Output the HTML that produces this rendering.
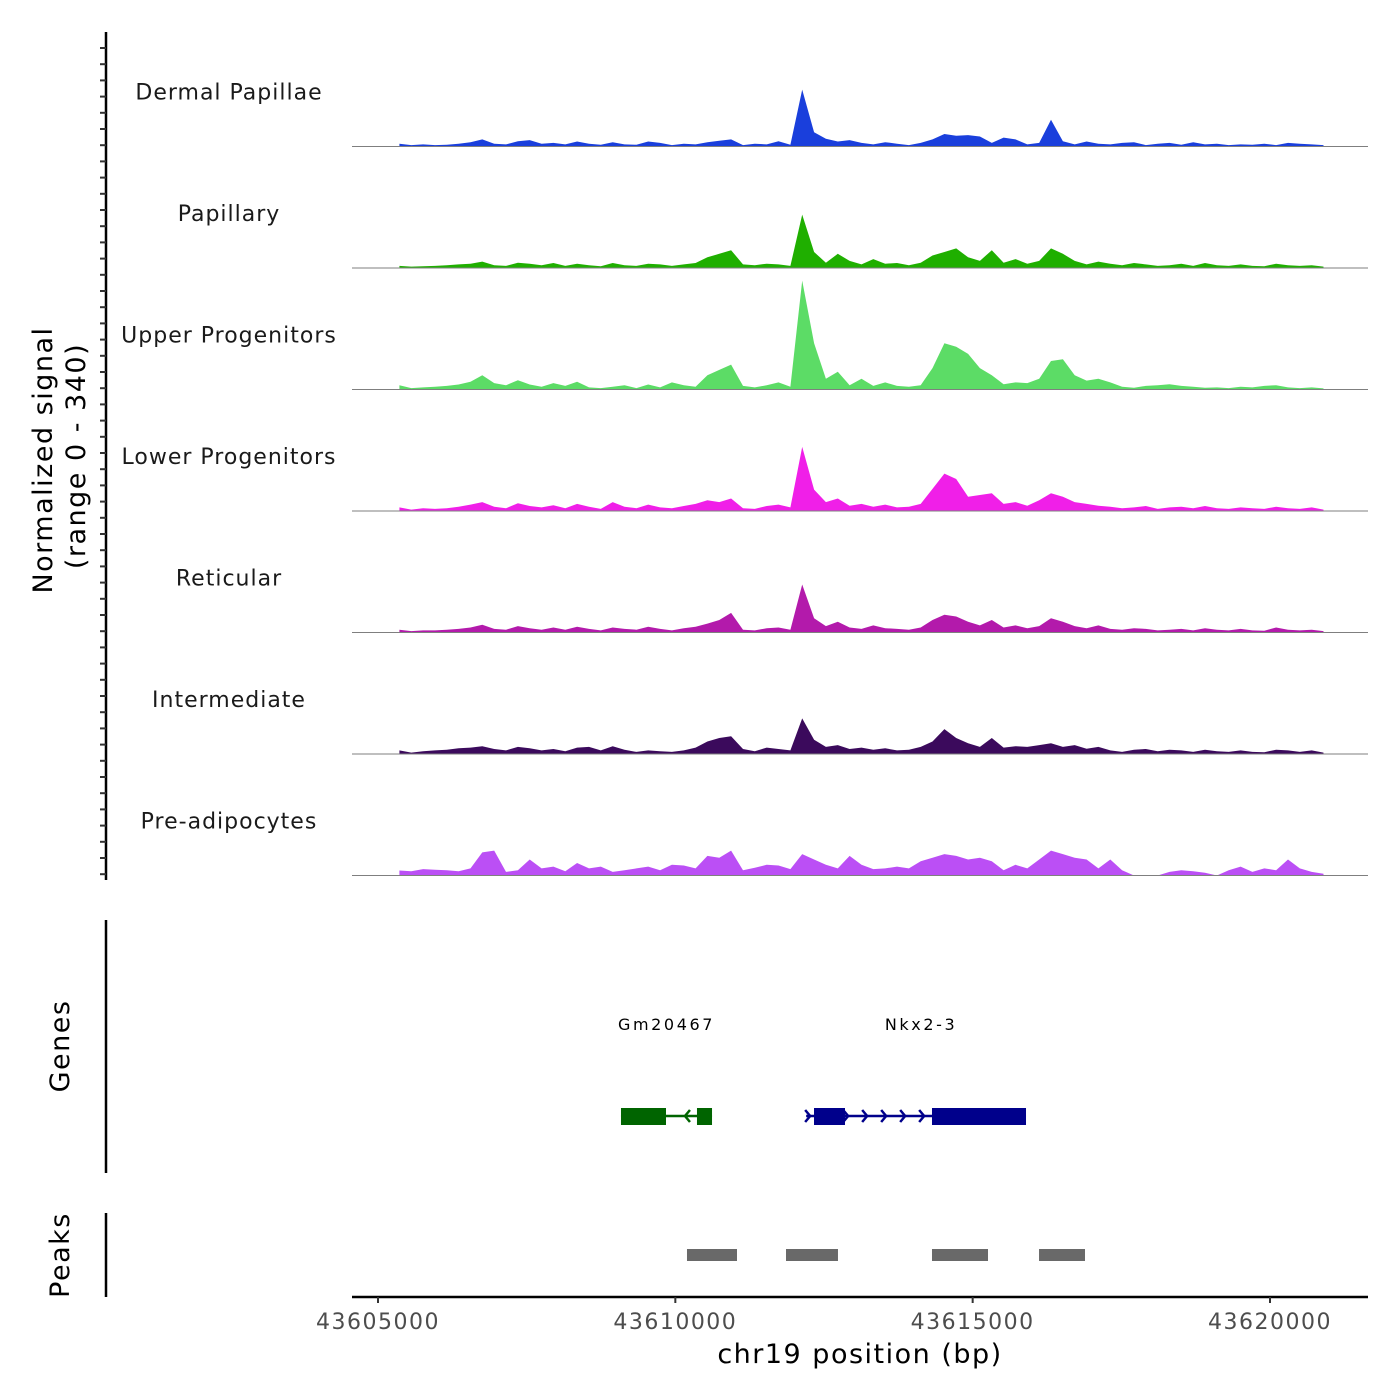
<!DOCTYPE html>
<html><head><meta charset="utf-8"><style>
body{margin:0;background:#fff}
svg{display:block;font-family:"DejaVu Sans","Liberation Sans",sans-serif}
</style></head><body>
<svg id="chart" width="1400" height="1400" viewBox="0 0 1400 1400"></svg>
<script>
const trackNames=["Dermal Papillae","Papillary","Upper Progenitors","Lower Progenitors","Reticular","Intermediate","Pre-adipocytes"];
const trackColors=["#1a3fdc","#1faf00","#5cdc66","#f01fe8","#b31aab","#3b0a5c","#bb4ff5"];
const sigDermal=[8,4,6,4,5,8,12,20,8,6,15,18,8,10,6,14,8,5,12,6,5,14,10,4,8,6,12,16,20,4,8,6,15,5,160,40,22,14,18,10,6,12,8,4,10,20,35,30,32,28,10,25,20,6,10,75,15,6,14,8,6,10,12,4,8,10,5,12,6,8,4,6,5,8,4,10,8,6,4];
const sigPapillary=[6,4,5,6,8,10,12,18,8,6,15,12,8,14,6,12,8,5,14,8,6,12,10,6,10,14,30,40,50,10,8,12,10,6,150,45,15,40,20,10,25,12,14,8,15,35,45,55,30,20,50,15,25,12,20,55,40,20,10,18,12,8,14,10,6,8,12,6,14,8,6,10,6,5,12,8,6,8,4];
const sigUpper=[12,4,6,8,10,14,22,40,18,12,26,14,8,18,10,22,6,4,8,12,4,14,6,20,12,8,40,55,70,10,6,12,20,8,306,130,30,50,12,30,10,20,10,8,12,60,130,120,100,60,40,15,20,18,30,80,85,40,25,30,20,8,5,10,12,15,10,8,5,6,4,8,6,10,12,6,4,6,3];
const sigLower=[10,4,8,6,8,12,18,25,12,8,22,14,10,16,8,20,12,6,25,12,8,18,10,8,14,20,30,25,35,8,6,14,18,10,180,60,25,35,15,20,12,18,10,12,20,62,105,90,40,45,50,20,25,15,30,50,40,25,20,15,12,8,10,14,6,10,12,8,14,8,6,10,8,6,12,8,6,10,4];
const sigReticular=[8,4,6,6,8,10,14,22,10,8,18,12,8,14,8,16,10,6,14,10,8,16,10,6,12,16,25,35,55,8,6,12,14,8,135,40,18,30,14,10,20,12,10,8,14,35,50,45,30,20,35,14,20,12,18,40,30,18,12,20,10,8,12,10,6,8,10,6,12,8,6,10,6,5,14,8,6,8,4];
const sigIntermediate=[10,4,8,10,12,16,18,22,14,10,20,16,10,14,8,18,20,10,22,12,6,10,8,6,10,18,35,45,50,14,8,18,14,10,100,40,20,25,14,18,12,16,10,12,20,35,70,45,30,20,45,18,22,20,25,30,20,25,15,20,10,6,12,14,8,12,10,6,12,8,6,10,6,5,12,10,6,10,4];
const sigPreadipo=[14,12,18,16,15,12,20,65,70,10,15,45,20,25,12,35,20,25,10,15,20,25,15,30,28,20,55,50,70,15,22,30,28,18,60,45,30,20,55,30,18,20,25,20,40,50,60,55,45,50,40,15,30,20,45,70,60,50,45,20,45,15,0,0,0,10,15,12,8,0,15,25,10,20,15,45,20,10,5];
const trackSignals=[sigDermal,sigPapillary,sigUpper,sigLower,sigReticular,sigIntermediate,sigPreadipo];
const sigStart=43605360, sigEnd=43620900;
const xTicks=[43605000,43610000,43615000,43620000];
const geneNames=["Gm20467","Nkx2-3"];
const geneStrand=[-1,1];
const geneColors=["#006400","#00008b"];
const geneStarts=[43609086,43612200];
const geneEnds=[43610617,43615897];
const exonGene=[0,0,1,1];
const exonStarts=[43609086,43610364,43612332,43614316];
const exonEnds=[43609843,43610617,43612853,43615897];
const peakStarts=[43610196,43611861,43614316,43616116];
const peakEnds=[43611037,43612735,43615258,43616889];

const NS="http://www.w3.org/2000/svg";
const svg=document.getElementById("chart");
function el(t,a,p){const e=document.createElementNS(NS,t);for(const k in a)e.setAttribute(k,a[k]);(p||svg).appendChild(e);return e;}
const X=bp=>378+(bp-43605000)*892/15000;
const trackTop=25, trackH=121.5, yMax=340, hPix=121;
const Y=(t,v)=>trackTop+trackH*(t+1)-v/yMax*hPix;

for(let t=0;t<trackNames.length;t++){
  const base=Y(t,0);
  const g=el("g",{});
  
  
  const s=trackSignals[t], n=s.length, step=(sigEnd-sigStart)/(n-1);
  let d="M"+X(sigStart)+","+base;
  for(let i=0;i<n;i++){d+=" L"+X(sigStart+i*step).toFixed(1)+","+Y(t,s[i]).toFixed(1);}
  d+=" L"+X(sigEnd)+","+base+" Z";
  const p=el("path",{d:d,fill:trackColors[t]},g);
  
  
  const bl=el("line",{x1:352,x2:1368,y1:base,y2:base,stroke:"#7f7f7f","stroke-width":1},g);
  
  
  const lb=el("text",{x:229,y:base-47,"text-anchor":"middle","font-size":"22","letter-spacing":"1",fill:"#1a1a1a"},g);
  lb.textContent=trackNames[t];
  
  
}
const ya=el("line",{x1:106,x2:106,y1:32,y2:880,stroke:"#000","stroke-width":2.5});


for(let y=48;y<=878;y+=16.2){
  const tk=el("line",{x1:100,x2:106,y1:y,y2:y,stroke:"#333","stroke-width":2});
  
  
}
const yt=el("text",{transform:"translate(52,460) rotate(-90)","text-anchor":"middle","font-size":"27","letter-spacing":"1.5",fill:"#000"});
yt.textContent="Normalized signal";


const yt2=el("text",{transform:"translate(85,456) rotate(-90)","text-anchor":"middle","font-size":"27","letter-spacing":"1.5",fill:"#000"});
yt2.textContent="(range 0 - 340)";



const ga=el("line",{x1:106,x2:106,y1:920,y2:1173,stroke:"#000","stroke-width":2.5});


const gt=el("text",{transform:"translate(69,1046) rotate(-90)","text-anchor":"middle","font-size":"27","letter-spacing":"1.5",fill:"#000"});
gt.textContent="Genes";


for(let g=0;g<geneNames.length;g++){
  const x1=X(geneStarts[g]),x2=X(geneEnds[g]),c=geneColors[g];
  const ln=el("line",{x1:x1,x2:x2,y1:1116,y2:1116,stroke:c,"stroke-width":2.5});
  
  
  const step=geneStrand[g]>0?19:30;
  for(let x=x1+4;x<x2;x+=step){
    const dx=geneStrand[g]*5;
    const ar=el("polyline",{points:(x-dx)+",1110 "+x+",1116 "+(x-dx)+",1122",fill:"none",stroke:c,"stroke-width":2.5});
    
    
  }
  const lb=el("text",{x:(x1+x2)/2+(g?5:0),y:1030,"text-anchor":"middle","font-size":"16",fill:"#000","letter-spacing":"2.6"});
  lb.textContent=geneNames[g];
  
  
}
for(let i=0;i<exonStarts.length;i++){
  const r=el("rect",{x:X(exonStarts[i]),y:1108,width:X(exonEnds[i])-X(exonStarts[i]),height:17,fill:geneColors[exonGene[i]]});
  
  
}
const pa=el("line",{x1:106,x2:106,y1:1213,y2:1297,stroke:"#000","stroke-width":2.5});


const pt=el("text",{transform:"translate(69,1255) rotate(-90)","text-anchor":"middle","font-size":"27","letter-spacing":"1.5",fill:"#000"});
pt.textContent="Peaks";


for(let i=0;i<peakStarts.length;i++){
  const r=el("rect",{x:X(peakStarts[i]),y:1249,width:X(peakEnds[i])-X(peakStarts[i]),height:12,fill:"#696969"});
  
  
}
const xa=el("line",{x1:352,x2:1368,y1:1297,y2:1297,stroke:"#000","stroke-width":2.5});


for(const v of xTicks){
  const tk=el("line",{x1:X(v),x2:X(v),y1:1297,y2:1303,stroke:"#333","stroke-width":2});
  
  
  const tl=el("text",{x:X(v),y:1329,"text-anchor":"middle","font-size":"22","letter-spacing":"1.5",fill:"#4d4d4d"});
  tl.textContent=String(v);
  
  
}
const xt=el("text",{x:860,y:1363,"text-anchor":"middle","font-size":"27","letter-spacing":"1.5",fill:"#000"});
xt.textContent="chr19 position (bp)";


</script>
</body></html>
